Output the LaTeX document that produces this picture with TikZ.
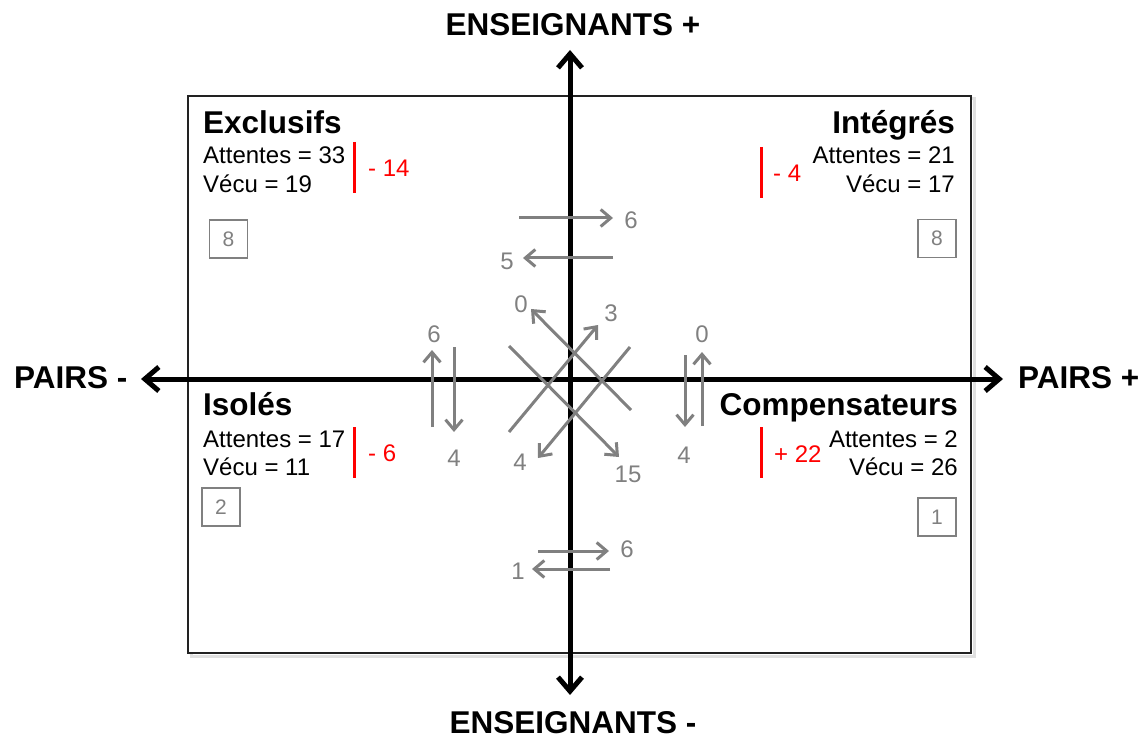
\documentclass[tikz,border=0pt]{standalone}
\usepackage{fontspec}
\setmainfont{Liberation Sans}
\usetikzlibrary{arrows.meta,positioning}
\definecolor{gris}{HTML}{808080}
\definecolor{rouge}{HTML}{FF0000}
\definecolor{cadre}{HTML}{222222}
\newcommand{\taille}[1]{\fontsize{#1}{#1}\selectfont}

\begin{document}
\begin{tikzpicture}[x=1pt, y=-1pt,
    axe/.style={line width=5pt, {Straight Barb[length=14pt,width=24pt]}-{Straight Barb[length=14pt,width=24pt]}},
    fleche/.style={gris, line width=3pt, -{Straight Barb[length=10pt,width=17pt]}},
    chiffre/.style={gris, inner sep=0pt, font=\taille{24}},
    titre/.style={inner sep=0pt, font=\taille{31.5}\bfseries},
    texte/.style={inner sep=0pt, font=\taille{24}},
    ecart/.style={rouge, inner sep=0pt, font=\taille{24}},
    barre/.style={rouge, line width=3pt},
    casenum/.style={draw=gris, line width=1.5pt, minimum size=38pt, inner sep=0pt, font=\taille{21}, text=gris}]
  \useasboundingbox (0,0) rectangle (1144,738);

  % cadre et axes
  \draw[black!12, line width=3pt] (191,99) rectangle (974,656);
  \draw[cadre, line width=1.8pt, fill=white] (188,96) rectangle (971,653);
  \coordinate (gauche) at (141,379);
  \coordinate (droite) at (1003,379);
  \coordinate (haut) at (570,50);
  \coordinate (bas) at (570,695);
  \draw[axe] (gauche) -- (droite);
  \draw[axe] (bas) -- (haut);
  \node[titre, anchor=base] (ensplus) at (573,36) {ENSEIGNANTS +};
  \node[titre, anchor=base] (ensmoins) at (573,733) {ENSEIGNANTS -};
  \node[titre, anchor=base west] (pairsmoins) at (14,388) {PAIRS -};
  \node[titre, anchor=base west] (pairsplus) at (1018,388) {PAIRS +};

  % Exclusifs
  \node[titre, anchor=base west] (excl) at (203,134) {Exclusifs};
  \node[texte, anchor=base west] (exclatt) at (203,164) {Attentes = 33};
  \node[texte, anchor=base west] (exclvec) at (203,193) {Vécu = 19};
  \draw[barre] (354,142) -- (354,193);
  \node[ecart, anchor=base west] (exclec) at (368,177) {- 14};
  \node[casenum] (exclnb) at (228.5,239) {8};

  % Intégrés
  \node[titre, anchor=base east] (integ) at (955,134) {Intégrés};
  \node[texte, anchor=base east] (integatt) at (955,164) {Attentes = 21};
  \node[texte, anchor=base east] (integvec) at (955,193) {Vécu = 17};
  \draw[barre] (761,147) -- (761,198);
  \node[ecart, anchor=base west] (integec) at (773,182) {- 4};
  \node[casenum] (integnb) at (937,238.5) {8};

  % Isolés
  \node[titre, anchor=base west] (isol) at (203,415) {Isolés};
  \node[texte, anchor=base west] (isolatt) at (203,447) {Attentes = 17};
  \node[texte, anchor=base west] (isolvec) at (203,475) {Vécu = 11};
  \draw[barre] (354,427) -- (354,478);
  \node[ecart, anchor=base west] (isolec) at (368,461) {- 6};
  \node[casenum] (isolnb) at (221,507) {2};

  % Compensateurs
  \node[titre, anchor=base east] (comp) at (958,415) {Compensateurs};
  \node[texte, anchor=base east] (compatt) at (958,447) {Attentes = 2};
  \node[texte, anchor=base east] (compvec) at (958,475) {Vécu = 26};
  \draw[barre] (761,427) -- (761,478);
  \node[ecart, anchor=base west] (compec) at (774,462) {+ 22};
  \node[casenum] (compnb) at (937,517) {1};

  % flux horizontaux
  \coordinate (h1a) at (519,218); \coordinate (h1b) at (613,218);
  \coordinate (h2a) at (613,258); \coordinate (h2b) at (523,258);
  \draw[fleche] (h1a) -- (h1b);
  \draw[fleche] (h2a) -- (h2b);
  \node[chiffre] (h1n) at (631,220) {6};
  \node[chiffre] (h2n) at (507,261) {5};
  \coordinate (b1a) at (538,551); \coordinate (b1b) at (609,551);
  \coordinate (b2a) at (610,569); \coordinate (b2b) at (532,569);
  \draw[fleche] (b1a) -- (b1b);
  \draw[fleche] (b2a) -- (b2b);
  \node[chiffre] (b1n) at (627,549) {6};
  \node[chiffre] (b2n) at (518,571) {1};

  % flux diagonaux
  \coordinate (d1a) at (631,410); \coordinate (d1b) at (531,309);
  \coordinate (d2a) at (509,432); \coordinate (d2b) at (598,325);
  \coordinate (d3a) at (509,346); \coordinate (d3b) at (619,457);
  \coordinate (d4a) at (630,347); \coordinate (d4b) at (538,458);
  \draw[fleche] (d1a) -- (d1b);
  \draw[fleche] (d2a) -- (d2b);
  \draw[fleche] (d3a) -- (d3b);
  \draw[fleche] (d4a) -- (d4b);
  \node[chiffre] (d1n) at (521,304) {0};
  \node[chiffre] (d2n) at (611,313) {3};
  \node[chiffre] (d3n) at (628,474) {15};
  \node[chiffre] (d4n) at (520,462) {4};

  % flux verticaux
  \coordinate (g1a) at (432,427); \coordinate (g1b) at (432,350);
  \coordinate (g2a) at (454,347); \coordinate (g2b) at (454,432);
  \coordinate (r1a) at (685,355); \coordinate (r1b) at (685,427);
  \coordinate (r2a) at (702,426); \coordinate (r2b) at (702,352);
  \draw[fleche] (g1a) -- (g1b);
  \draw[fleche] (g2a) -- (g2b);
  \draw[fleche] (r1a) -- (r1b);
  \draw[fleche] (r2a) -- (r2b);
  \node[chiffre] (g1n) at (434,334) {6};
  \node[chiffre] (g2n) at (454,458) {4};
  \node[chiffre] (r1n) at (684,455) {4};
  \node[chiffre] (r2n) at (702,334) {0};
\end{tikzpicture}
\end{document}
